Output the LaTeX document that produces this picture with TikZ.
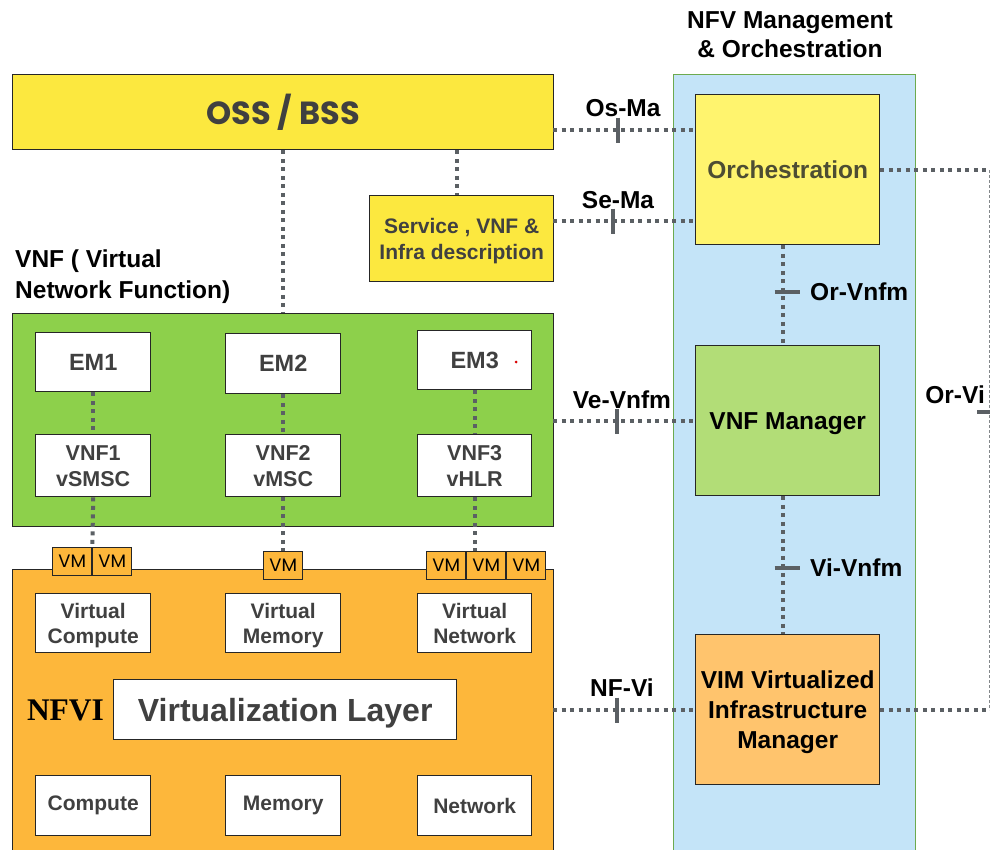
\documentclass[tikz,border=0pt]{standalone}
\usepackage{fontspec}
\setmainfont{Liberation Sans}
\newfontfamily\geofont{Poppins}
\newfontfamily\nfvifont{Liberation Serif}
\usetikzlibrary{calc}
\definecolor{ossyellow}{HTML}{FCE83F}
\definecolor{orchyellow}{HTML}{FFF46E}
\definecolor{vnfgreen}{HTML}{8DD04B}
\definecolor{vnfmgreen}{HTML}{B2DD77}
\definecolor{nfviorange}{HTML}{FDB73B}
\definecolor{vimorange}{HTML}{FFC46D}
\definecolor{manoblue}{HTML}{C4E4F8}
\definecolor{manoedge}{HTML}{6DAA4F}
\definecolor{linkgray}{HTML}{5B6064}
\definecolor{textgray}{HTML}{404040}
\newcommand{\fs}[2]{\fontsize{#1}{#2}\selectfont}
\begin{document}
\begin{tikzpicture}[x=1pt,y=-1pt,
  box/.style={draw=black!85, line width=1.4pt, rectangle, anchor=north west,
    align=center, inner sep=0pt, font=\bfseries},
  wbox/.style={box, fill=white, text=textgray},
  low/.style={text depth=0pt},
  vmbox/.style={draw=black!85, line width=1.4pt, fill=nfviorange, anchor=north west,
    inner sep=0pt, minimum width=39pt, minimum height=28pt, font=\geofont\fs{18}{20}},
  link/.style={draw=linkgray, line width=4pt, dash pattern=on 4pt off 4.5pt},
  tickmark/.style={draw=linkgray, line width=4pt},
  lbl/.style={font=\bfseries\fs{24.5}{29}, inner sep=0pt, align=center},
]
\useasboundingbox (0,0) rectangle (990,849);
\clip (0,0) rectangle (990,849);

% ---------- MANO column ----------
\node[box, draw=manoedge, line width=1.2pt, fill=manoblue, minimum width=242pt, minimum height=800pt] (mano) at (673,74) {};
\node[lbl] (manotitle) at (790,35) {NFV Management\\\& Orchestration};
\node[box, low, fill=orchyellow, text=textgray!80!olive, minimum width=184pt, minimum height=150pt, font=\bfseries\fs{24.5}{29}] (orch) at (695,94) {Orchestration};
\node[box, low, fill=vnfmgreen, minimum width=184pt, minimum height=150pt, font=\bfseries\fs{24.5}{29}] (vnfm) at (695,345) {VNF Manager};
\node[box, low, fill=vimorange, minimum width=184pt, minimum height=150pt, font=\bfseries\fs{24.5}{30}] (vim) at (695,634) {VIM Virtualized\\Infrastructure\\Manager};

% ---------- OSS / BSS and descriptors ----------
\node[box, fill=ossyellow, text=textgray, minimum width=541pt, minimum height=75pt, font=\geofont\bfseries\fs{32}{36}] (oss) at (12,74) {OSS / BSS};
\node[box, low, fill=ossyellow, text=textgray, minimum width=184pt, minimum height=86pt, font=\bfseries\fs{21}{26}] (desc) at (369,195) {Service , VNF \&\\Infra description};

% ---------- VNF block ----------
\node[lbl, anchor=west, align=left, font=\bfseries\fs{24.5}{31}] (vnflabel) at (15,277) {VNF ( Virtual\\Network Function)};
\node[box, fill=vnfgreen, minimum width=541pt, minimum height=213pt] (vnfbox) at (12,313) {};
\node[wbox, minimum width=115pt, minimum height=59pt, font=\bfseries\fs{23.5}{28}] (em1) at (35,332) {EM1};
\node[wbox, minimum width=115pt, minimum height=60pt, font=\bfseries\fs{23.5}{28}] (em2) at (225,333) {EM2};
\node[wbox, minimum width=114pt, minimum height=59pt, font=\bfseries\fs{23.5}{28}] (em3) at (417,330) {EM3};
\fill[red!85!black] (516,362) circle (1.5pt);
\node[wbox, low, minimum width=115pt, minimum height=62pt, font=\bfseries\fs{21.5}{26}] (vnf1) at (35,434) {VNF1\\vSMSC};
\node[wbox, low, minimum width=115pt, minimum height=62pt, font=\bfseries\fs{21.5}{26}] (vnf2) at (225,434) {VNF2\\vMSC};
\node[wbox, low, minimum width=114pt, minimum height=62pt, font=\bfseries\fs{21.5}{26}] (vnf3) at (417,434) {VNF3\\vHLR};

% ---------- NFVI block ----------
\node[box, fill=nfviorange, minimum width=541pt, minimum height=300pt] (nfvi) at (12,569) {};
\node[wbox, low, minimum width=115pt, minimum height=59pt, font=\bfseries\fs{21}{25.5}] (vcomp) at (35,593) {Virtual\\Compute};
\node[wbox, low, minimum width=115pt, minimum height=59pt, font=\bfseries\fs{21}{25.5}] (vmem) at (225,593) {Virtual\\Memory};
\node[wbox, low, minimum width=114pt, minimum height=59pt, font=\bfseries\fs{21}{25.5}] (vnet) at (417,593) {Virtual\\Network};
\node[font=\nfvifont\bfseries\fs{31.5}{34}, inner sep=0pt] (nfvilabel) at (65.5,710) {NFVI};
\node[wbox, low, minimum width=343pt, minimum height=60pt, font=\bfseries\fs{32}{36}] (vlayer) at (113,679) {Virtualization Layer};
\node[wbox, minimum width=115pt, minimum height=60pt, font=\bfseries\fs{21}{25}] (comp) at (35,775) {Compute};
\node[wbox, minimum width=115pt, minimum height=60pt, font=\bfseries\fs{21}{25}] (mem) at (225,775) {Memory};
\node[wbox, minimum width=114pt, minimum height=60pt, font=\bfseries\fs{21}{25}] (net) at (417,775) {Network};

% ---------- VNF to VM links (under the VMs) ----------
\coordinate (vmgap) at (92,569);
\draw[link] (vnf1.south) -- (vmgap);

% ---------- virtual machines ----------
\node[vmbox] (vma) at (52,547) {VM};
\node[vmbox] (vmb) at (92,547) {VM};
\node[vmbox] (vmc) at (263,551) {VM};
\node[vmbox] (vmd) at (426,551) {VM};
\node[vmbox] (vme) at (466,551) {VM};
\node[vmbox] (vmf) at (506,551) {VM};
\draw[link] (vnf2.south) -- (vnf2.south |- vmc.north);
\draw[link] (vnf3.south) -- (vnf3.south |- vme.north);

% ---------- internal links ----------
\draw[link] (em2.north |- oss.south) -- (em2.north |- vnfbox.north);
\draw[link] ([xshift=-5pt]desc.north |- oss.south) -- ([xshift=-5pt]desc.north);
\draw[link] (em1.south) -- (vnf1.north);
\draw[link] (em2.south) -- (vnf2.north);
\draw[link] (em3.south) -- (vnf3.north);

% ---------- reference points ----------
% Os-Ma
\coordinate (osma) at (553,130);
\draw[link] (osma) -- (osma -| orch.west);
\coordinate (osmatick) at (618,130);
\draw[tickmark] ($(osmatick)+(0,-12.5)$) -- ($(osmatick)+(0,12.5)$);
\node[lbl] (osmalbl) at (623,108) {Os-Ma};
% Se-Ma
\coordinate (sema) at (553,221);
\draw[link] (sema) -- (sema -| orch.west);
\coordinate (sematick) at (613,221);
\draw[tickmark] ($(sematick)+(0,-12.5)$) -- ($(sematick)+(0,12.5)$);
\node[lbl] (semalbl) at (618,200) {Se-Ma};
% Ve-Vnfm
\coordinate (vevnfm) at (553,421);
\draw[link] (vevnfm) -- (vevnfm -| vnfm.west);
\coordinate (vevnfmtick) at (617,421);
\draw[tickmark] ($(vevnfmtick)+(0,-12.5)$) -- ($(vevnfmtick)+(0,12.5)$);
\node[lbl] (vevnfmlbl) at (622,400) {Ve-Vnfm};
% NF-Vi
\coordinate (nfvi-vi) at (553,710);
\draw[link] (nfvi-vi) -- (nfvi-vi -| vim.west);
\coordinate (nfvitick) at (617,710);
\draw[tickmark] ($(nfvitick)+(0,-12.5)$) -- ($(nfvitick)+(0,12.5)$);
\node[lbl] (nfvilbl) at (622,688) {NF-Vi};
% Or-Vnfm
\draw[link] ([xshift=-5pt]orch.south) -- ([xshift=-5pt]vnfm.north);
\coordinate (orvnfmtick) at (787,292);
\draw[tickmark] ($(orvnfmtick)+(-12.5,0)$) -- ($(orvnfmtick)+(12.5,0)$);
\node[lbl, anchor=west] (orvnfmlbl) at (810,292) {Or-Vnfm};
% Vi-Vnfm
\draw[link] ([xshift=-5pt]vnfm.south) -- ([xshift=-5pt]vim.north);
\coordinate (vivnfmtick) at (787,568);
\draw[tickmark] ($(vivnfmtick)+(-12.5,0)$) -- ($(vivnfmtick)+(12.5,0)$);
\node[lbl, anchor=west] (vivnfmlbl) at (810,568) {Vi-Vnfm};
% Or-Vi
\coordinate (orvitop) at (989,170);
\coordinate (orvibot) at (989,710);
\draw[link] (orvitop -| orch.east) -- (orvitop);
\draw[link] (orvibot -| vim.east) -- (orvibot);
\draw[draw=linkgray!75, line width=1pt, dash pattern=on 3pt off 2pt] (orvitop) -- (orvibot);
\coordinate (orvitick) at (989,412);
\draw[tickmark] ($(orvitick)+(-12,0)$) -- ($(orvitick)+(4,0)$);
\node[lbl, anchor=east] (orvilbl) at (985,395) {Or-Vi};
\end{tikzpicture}
\end{document}
